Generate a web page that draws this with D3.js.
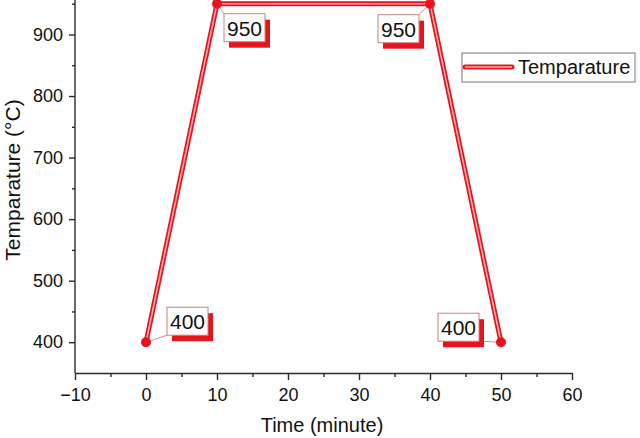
<!DOCTYPE html>
<html>
<head>
<meta charset="utf-8">
<script src="https://cdn.jsdelivr.net/npm/d3@7/dist/d3.min.js"></script>
<style>
  html, body { margin: 0; padding: 0; background: #fff; }
  svg { display: block; font-family: "Liberation Sans", Arial, sans-serif; }
</style>
</head>
<body>
<svg id="chart" width="640" height="438"></svg>
<script>
// ---- data ----
const timeValues = [0, 10, 40, 50];
const tempValues = [400, 950, 950, 400];
const pointLabels = ["400", "950", "950", "400"];
const xTickValues = [-10, 0, 10, 20, 30, 40, 50, 60];
const xMinorTicks = [-5, 5, 15, 25, 35, 45, 55];
const yTickValues = [400, 500, 600, 700, 800, 900];
const yMinorTicks = [450, 550, 650, 750, 850, 950];
const seriesName = "Temparature";
const xTitle = "Time (minute)";
const yTitle = "Temparature (°C)";

// ---- layout (not data) ----
const labelOffsets = [[21, -35], [7, 10], [-52, 11], [-63, -29]];
const boxW = 41, boxH = 28, shadowDx = 5, shadowDy = 6;
const red = "#e8141c", pink = "#f6a8aa", axisColor = "#2b2b2b";

const svg = d3.select("#chart");
const x = d3.scaleLinear().domain([-10, 60]).range([75, 572]);
const y = d3.scaleLinear().domain([350, 956]).range([373, 0]);

// axes
svg.append("g").attr("transform", `translate(0,${y(350)})`)
  .call(d3.axisBottom(x).tickValues(xTickValues).tickSize(7).tickSizeOuter(0).tickPadding(8)
    .tickFormat(d => d < 0 ? "\u2212" + Math.abs(d) : d));
svg.append("g").attr("transform", `translate(0,${y(350)})`)
  .call(d3.axisBottom(x).tickValues(xMinorTicks).tickSize(4).tickSizeOuter(0).tickFormat(""))
  .select(".domain").remove();
const yAxis = svg.append("g").attr("transform", `translate(${x(-10)},0)`)
  .call(d3.axisLeft(y).tickValues(yTickValues).tickSize(6).tickSizeOuter(0).tickPadding(6));
svg.append("g").attr("transform", `translate(${x(-10)},0)`)
  .call(d3.axisLeft(y).tickValues(yMinorTicks).tickSize(3).tickSizeOuter(0).tickFormat(""))
  .select(".domain").remove();
yAxis.select(".domain").attr("d", `M0,${y(350)}V0`);
svg.selectAll(".domain, .tick line").attr("stroke", axisColor).attr("stroke-width", 1.4);
svg.selectAll(".tick text").attr("fill", "#111").style("font-size", "18px")
  .style("font-family", '"Liberation Sans", Arial, sans-serif');

// titles
svg.append("text").attr("x", 322).attr("y", 432).attr("text-anchor", "middle")
  .style("font-size", "20px").attr("fill", "#111").text(xTitle);
svg.append("text").attr("transform", `translate(20,180) rotate(-90)`).attr("text-anchor", "middle")
  .style("font-size", "21px").attr("fill", "#111").text(yTitle);

// series line (double-line style)
const pts = timeValues.map((t, i) => [x(t), y(tempValues[i])]);
const line = d3.line();
svg.append("path").attr("d", line(pts)).attr("fill", "none")
  .attr("stroke", red).attr("stroke-width", 5).attr("stroke-linejoin", "miter");
svg.append("path").attr("d", line(pts)).attr("fill", "none")
  .attr("stroke", pink).attr("stroke-width", 1.6).attr("stroke-linejoin", "miter");

// labels
pts.forEach((p, i) => {
  const bx = p[0] + labelOffsets[i][0], by = p[1] + labelOffsets[i][1];
  const cx = Math.max(bx, Math.min(bx + boxW, p[0]));
  const cy = Math.max(by, Math.min(by + boxH, p[1]));
  svg.append("line").attr("x1", p[0]).attr("y1", p[1]).attr("x2", cx).attr("y2", cy)
    .attr("stroke", "#d98a8a").attr("stroke-width", 1);
  svg.append("rect").attr("x", bx + shadowDx).attr("y", by + shadowDy)
    .attr("width", boxW).attr("height", boxH).attr("fill", red);
  svg.append("rect").attr("x", bx).attr("y", by).attr("width", boxW).attr("height", boxH)
    .attr("fill", "#fff").attr("stroke", "#c98080").attr("stroke-width", 1);
  svg.append("text").attr("x", bx + boxW / 2).attr("y", by + boxH / 2 + 8)
    .attr("text-anchor", "middle").style("font-size", "21px").attr("fill", "#111")
    .text(pointLabels[i]);
});

// markers
svg.selectAll("circle.pt").data(pts).join("circle").attr("class", "pt")
  .attr("cx", d => d[0]).attr("cy", d => d[1]).attr("r", 5).attr("fill", red);

// legend
svg.append("rect").attr("x", 462).attr("y", 53).attr("width", 173).attr("height", 29)
  .attr("fill", "#fff").attr("stroke", "#777").attr("stroke-width", 1);
svg.append("line").attr("x1", 465).attr("x2", 512).attr("y1", 67).attr("y2", 67)
  .attr("stroke", red).attr("stroke-width", 5).attr("stroke-linecap", "round");
svg.append("line").attr("x1", 465).attr("x2", 512).attr("y1", 67).attr("y2", 67)
  .attr("stroke", pink).attr("stroke-width", 1.6);
svg.append("text").attr("x", 518).attr("y", 74).style("font-size", "20px").attr("fill", "#111")
  .text(seriesName);
</script>
</body>
</html>
